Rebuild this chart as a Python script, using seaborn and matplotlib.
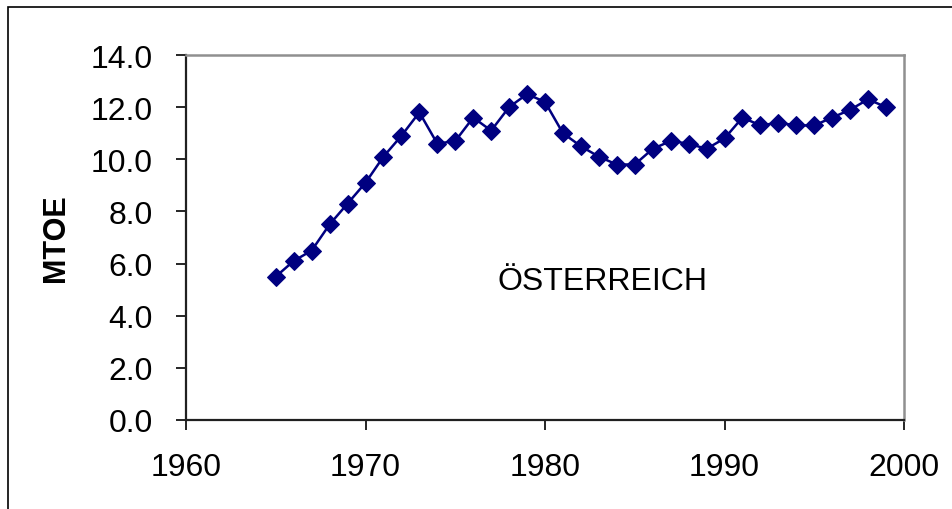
import numpy as np
import pandas as pd
import matplotlib
matplotlib.use('Agg')
import matplotlib.pyplot as plt
import seaborn as sns
from matplotlib.patches import Rectangle
from matplotlib.ticker import FormatStrFormatter

# Data (MTOE per year, Austria)
years = list(range(1965, 2000))
mtoe = [5.5, 6.1, 6.5, 7.5, 8.3, 9.1, 10.1, 10.9, 11.8, 10.6,
        10.7, 11.6, 11.1, 12.0, 12.5, 12.2, 11.0, 10.5, 10.1, 9.8,
        9.8, 10.4, 10.7, 10.6, 10.4, 10.8, 11.6, 11.3, 11.4, 11.3,
        11.3, 11.6, 11.9, 12.3, 12.0]
x_ticks = [1960, 1970, 1980, 1990, 2000]
y_ticks = [0, 2, 4, 6, 8, 10, 12, 14]
label_text = 'ÖSTERREICH'
y_label = 'MTOE'

df = pd.DataFrame({'year': years, 'mtoe': mtoe})

sns.set_style('white')
plt.rcParams['font.family'] = ['Liberation Sans', 'DejaVu Sans']
plt.rcParams['text.color'] = 'black'
plt.rcParams['axes.labelcolor'] = 'black'
plt.rcParams['xtick.color'] = 'black'
plt.rcParams['ytick.color'] = 'black'

fig = plt.figure(figsize=(9.52, 5.10), dpi=100)
ax = fig.add_axes([186 / 952, 89 / 510, 718 / 952, 365 / 510])

sns.lineplot(data=df, x='year', y='mtoe', ax=ax, color='#000080',
             marker='D', markersize=9, markeredgecolor='#000080',
             linewidth=1.8)

ax.set_xlim(1960, 2000)
ax.set_ylim(0, 14)
ax.set_xticks(x_ticks)
ax.set_yticks(y_ticks)
ax.yaxis.set_major_formatter(FormatStrFormatter('%.1f'))
ax.tick_params(axis='both', labelsize=23, direction='out', length=7,
               width=1.2, color='black', labelcolor='black',
               left=True, bottom=True)
ax.tick_params(axis='y', pad=17)
ax.tick_params(axis='x', pad=16)

ax.set_xlabel('')
ax.set_ylabel(y_label, fontsize=22, fontweight='bold', color='black')
ax.yaxis.set_label_coords(-0.16, 0.5)

for side in ['top', 'right']:
    ax.spines[side].set_color('#909090')
    ax.spines[side].set_linewidth(1.8)
for side in ['left', 'bottom']:
    ax.spines[side].set_color('#202020')
    ax.spines[side].set_linewidth(1.6)

ax.text(1983.2, 5.33, label_text, fontsize=23, ha='center', va='center',
        color='black')

# outer chart border (continues off the right/bottom edge)
fig.patches.append(Rectangle((8 / 952, -0.1), 1.2, 0.1 + 502 / 510,
                             transform=fig.transFigure, fill=False,
                             edgecolor='black', linewidth=1.2))

fig.savefig('out.png', dpi=100)
